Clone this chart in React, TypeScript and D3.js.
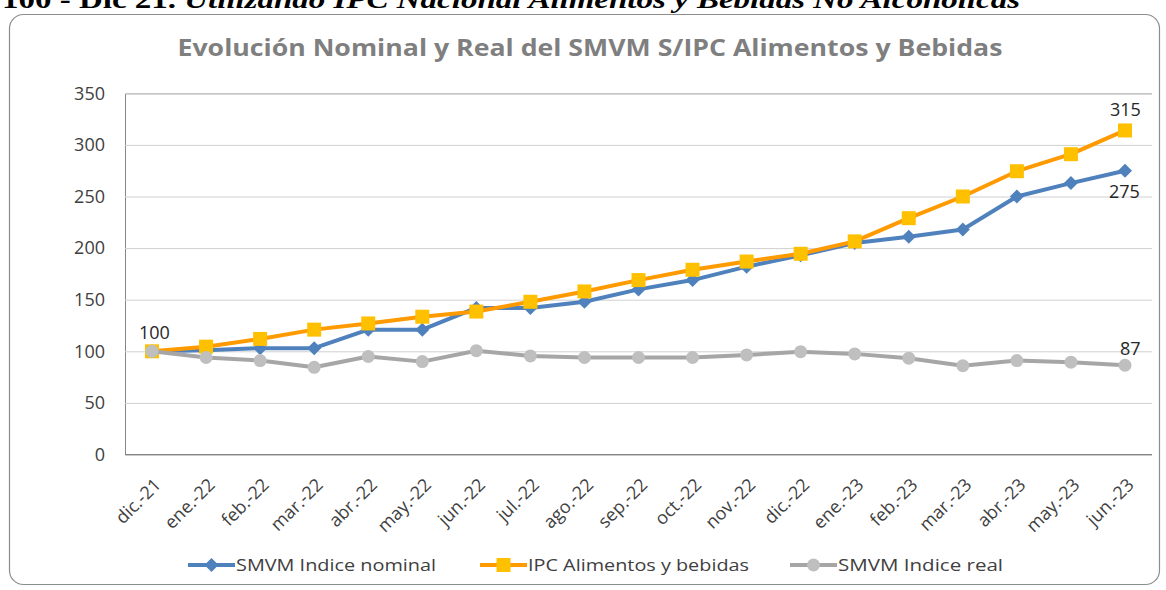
import * as React from 'react';
import * as d3 from 'd3';

const months = ['dic.-21', 'ene.-22', 'feb.-22', 'mar.-22', 'abr.-22', 'may.-22', 'jun.-22', 'jul.-22', 'ago.-22', 'sep.-22', 'oct.-22', 'nov.-22', 'dic.-22', 'ene.-23', 'feb.-23', 'mar.-23', 'abr.-23', 'may.-23', 'jun.-23'];
const nominal = [100, 101, 103, 103, 121, 121, 142, 142, 148, 160, 169, 182, 193, 205, 211, 218, 250, 263, 275];
const ipc = [100, 104.5, 112, 121, 127, 133.5, 138.5, 148, 158, 169, 179, 187, 194.5, 206.5, 229, 250, 274.5, 291, 314];
const real = [100, 94, 91, 84.5, 95, 90, 100.6, 95.5, 94, 94, 94, 96.5, 99.6, 97.5, 93.3, 86, 91, 89.5, 86.5];
const yTicks = [0, 50, 100, 150, 200, 250, 300, 350];
const seriesNames = ['SMVM Indice nominal', 'IPC Alimentos y bebidas', 'SMVM Indice real'];
const pointLabels = [
    { series: 2, index: 0, text: '100' },
    { series: 1, index: 18, text: '315' },
    { series: 0, index: 18, text: '275' },
    { series: 2, index: 18, text: '87' },
];

const width = 1166;
const height = 590;
const plot = { left: 125, right: 1152, top: 93.3, bottom: 454.5 };
const font = '"Open Sans", "Noto Sans", sans-serif';

const colors = ['#4f81bd', '#ff9a00', '#a6a6a6'];
const markerFill = ['#4f81bd', '#ffc000', '#bfbfbf'];

export default function App() {
    const svgRef = React.useRef<SVGSVGElement | null>(null);

    React.useEffect(() => {
        const svg = d3.select(svgRef.current);
        svg.selectAll('*').remove();

        const x = d3.scalePoint<string>().domain(months).range([plot.left, plot.right]).padding(0.5);
        const y = d3.scaleLinear().domain([0, 350]).range([plot.bottom, plot.top]);

        // heading of the page, cut off at the top like in the source
        const head = svg.append('text')
            .attr('x', 2).attr('y', 8)
            .attr('font-family', '"Liberation Serif", serif')
            .attr('font-size', 26).attr('font-weight', 'bold')
            .attr('fill', '#000')
            .attr('textLength', 1018).attr('lengthAdjust', 'spacingAndGlyphs');
        head.append('tspan').text('100 - Dic 21. ');
        head.append('tspan').attr('font-style', 'italic')
            .text('Utilizando IPC Nacional Alimentos y Bebidas No Alcohólicas');

        // chart frame
        svg.append('rect')
            .attr('x', 9.5).attr('y', 14.5)
            .attr('width', 1150).attr('height', 570)
            .attr('rx', 14)
            .attr('fill', '#fff').attr('stroke', '#8c8c8c').attr('stroke-width', 1.2);

        svg.append('text')
            .attr('x', 590).attr('y', 56)
            .attr('text-anchor', 'middle')
            .attr('font-family', font).attr('font-size', 24).attr('font-weight', 'bold')
            .attr('fill', '#7f7f7f')
            .attr('textLength', 825).attr('lengthAdjust', 'spacingAndGlyphs')
            .text('Evolución Nominal y Real del SMVM S/IPC Alimentos y Bebidas');

        // gridlines + y axis
        const yAxis = d3.axisLeft(y).tickValues(yTicks).tickSize(-(plot.right - plot.left)).tickPadding(20);
        const yg = svg.append('g').attr('transform', `translate(${plot.left},0)`).call(yAxis);
        yg.select('.domain').attr('stroke', '#868686');
        yg.selectAll('.tick line').attr('stroke', '#d0d0d0').attr('stroke-width', 1);
        yg.selectAll('.tick text')
            .attr('font-family', font).attr('font-size', 18).attr('fill', '#404040');

        // x axis
        const xAxis = d3.axisBottom(x).tickSize(0).tickPadding(0);
        const xg = svg.append('g').attr('transform', `translate(0,${plot.bottom})`).call(xAxis);
        xg.select('.domain').attr('stroke', '#868686').attr('d', `M${plot.left},0H${plot.right}`);
        xg.selectAll('.tick text')
            .attr('font-family', font).attr('font-size', 18).attr('fill', '#404040')
            .attr('text-anchor', 'end')
            .attr('dy', '0.35em')
            .attr('transform', 'translate(5,27) rotate(-45)');

        const data = [nominal, ipc, real];
        const line = d3.line<number>().x((d, i) => x(months[i]) as number).y(d => y(d));

        const drawMarker = (g: d3.Selection<any, any, any, any>, s: number, cx: number, cy: number) => {
            if (s === 0) {
                const r = 7;
                g.append('path')
                    .attr('d', `M${cx},${cy - r}L${cx + r},${cy}L${cx},${cy + r}L${cx - r},${cy}Z`)
                    .attr('fill', markerFill[0]);
            } else if (s === 1) {
                g.append('rect')
                    .attr('x', cx - 7).attr('y', cy - 7).attr('width', 14).attr('height', 14)
                    .attr('fill', markerFill[1]);
            } else {
                g.append('circle').attr('cx', cx).attr('cy', cy).attr('r', 6.5)
                    .attr('fill', markerFill[2]);
            }
        };

        data.forEach((values, s) => {
            const g = svg.append('g');
            g.append('path')
                .datum(values)
                .attr('d', line)
                .attr('fill', 'none')
                .attr('stroke', colors[s])
                .attr('stroke-width', 4)
                .attr('stroke-linejoin', 'round');
            values.forEach((v, i) => drawMarker(g, s, x(months[i]) as number, y(v)));
        });

        // data labels
        const labelPos = [
            { dx: -13, dy: -19 },
            { dx: -15, dy: -21 },
            { dx: -16, dy: 21 },
            { dx: -5, dy: -17 },
        ];
        pointLabels.forEach((l, k) => {
            svg.append('text')
                .attr('x', (x(months[l.index]) as number) + labelPos[k].dx)
                .attr('y', y(data[l.series][l.index]) + labelPos[k].dy)
                .attr('dy', '0.35em')
                .attr('font-family', font).attr('font-size', 18).attr('fill', '#262626')
                .text(l.text);
        });

        // legend
        const legendX = [188, 480, 790];
        const legendW = [200, 221, 165];
        const ly = 565;
        seriesNames.forEach((name, s) => {
            const g = svg.append('g');
            g.append('line')
                .attr('x1', legendX[s]).attr('x2', legendX[s] + 47)
                .attr('y1', ly).attr('y2', ly)
                .attr('stroke', colors[s]).attr('stroke-width', 4);
            drawMarker(g, s, legendX[s] + 23.5, ly);
            g.append('text')
                .attr('x', legendX[s] + 48).attr('y', ly).attr('dy', '0.35em')
                .attr('font-family', font).attr('font-size', 17).attr('fill', '#404040')
                .attr('textLength', legendW[s]).attr('lengthAdjust', 'spacingAndGlyphs')
                .text(name);
        });
    }, []);

    return <svg
        ref={svgRef}
        width={width}
        height={height}
        style={{ position: 'absolute', left: 0, top: 0, background: '#fff' }}>
    </svg>;
}
